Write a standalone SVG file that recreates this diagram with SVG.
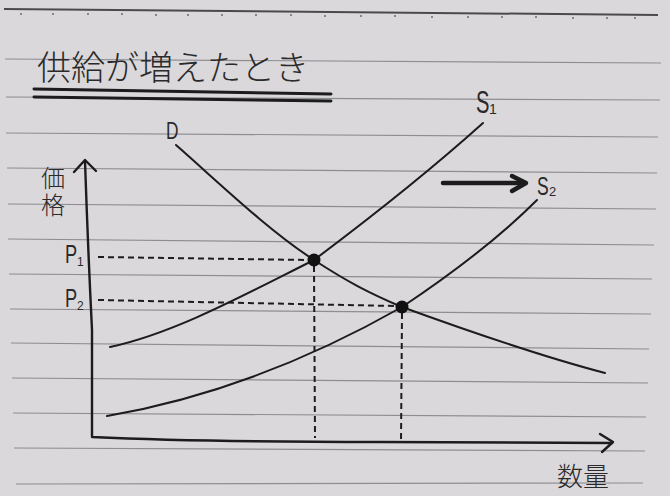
<svg xmlns="http://www.w3.org/2000/svg" width="670" height="496" viewBox="0 0 670 496">
<style>
.rule{stroke:#8e8d92;stroke-width:1.2;fill:none}
.ink{stroke:#1c1c1c;fill:none;stroke-linecap:round;stroke-linejoin:round}
.axis{stroke-width:2.4}
.curve{stroke-width:2}
.dash{stroke:#1c1c1c;stroke-width:2;stroke-dasharray:6 4;fill:none}
.jp{font-family:"Noto Sans CJK JP","Noto Sans CJK SC",sans-serif;fill:#2a2a2a;font-weight:300}
.lt{font-family:"Liberation Sans","DejaVu Sans",sans-serif;fill:#2a2a2a}
.dot{fill:#111}
</style>
<rect x="0" y="0" width="670" height="496" fill="#dad8db"/>
<g id="paper-lines">
<line x1="4" y1="9" x2="658" y2="15" stroke="#4a4a4d" stroke-width="2"/>
<g fill="#6a6a6e">
<circle cx="21" cy="14" r="1"/><circle cx="53" cy="14" r="1"/><circle cx="88" cy="14" r="1"/><circle cx="122" cy="14" r="1"/><circle cx="156" cy="15" r="1"/><circle cx="188" cy="15" r="1"/><circle cx="222" cy="15" r="1"/><circle cx="256" cy="15" r="1"/><circle cx="291" cy="15" r="1"/><circle cx="325" cy="16" r="1"/><circle cx="361" cy="16" r="1"/><circle cx="395" cy="16" r="1"/><circle cx="432" cy="17" r="1"/><circle cx="468" cy="17" r="1"/><circle cx="502" cy="17" r="1"/><circle cx="536" cy="17" r="1"/><circle cx="573" cy="18" r="1"/><circle cx="607" cy="18" r="1"/><circle cx="635" cy="18" r="1"/>
</g>
<line class="rule" x1="5" y1="59" x2="661" y2="63"/>
<line class="rule" x1="6" y1="97" x2="660" y2="100"/>
<line class="rule" x1="6" y1="133" x2="658" y2="137"/>
<line class="rule" x1="7" y1="168" x2="657" y2="173"/>
<line class="rule" x1="8" y1="204" x2="656" y2="209"/>
<line class="rule" x1="8" y1="239" x2="654" y2="245"/>
<line class="rule" x1="9" y1="274" x2="652" y2="279"/>
<line class="rule" x1="10" y1="309" x2="651" y2="314"/>
<line class="rule" x1="11" y1="343" x2="649" y2="349"/>
<line class="rule" x1="12" y1="378" x2="648" y2="383"/>
<line class="rule" x1="13" y1="413" x2="646" y2="417"/>
<line class="rule" x1="14" y1="448" x2="645" y2="451"/>
<line class="rule" x1="16" y1="484" x2="643" y2="483"/>
</g>
<g id="title">
<text class="jp" x="37" y="80" font-size="34">供給が増えたとき</text>
<line class="ink" x1="34" y1="89" x2="331" y2="94" stroke-width="3"/>
<line class="ink" x1="34" y1="97" x2="331" y2="101" stroke-width="3"/>
</g>
<g id="axes">
<path class="ink axis" d="M85,161 Q88,250 92,330 L92,437 Q200,442 380,442 L612,443"/>
<polyline class="ink axis" points="74,172 85,160 96,171"/>
<polyline class="ink axis" points="600,434 613,442 602,452"/>
<text class="jp" x="53" y="166" font-size="24" writing-mode="vertical-rl" letter-spacing="3">価格</text>
<text class="jp" x="557" y="486" font-size="26">数量</text>
</g>
<g id="connectors">
<path class="dash" d="M98,257 L308,260"/>
<path class="dash" d="M98,300 L396,306"/>
<path class="dash" d="M314,266 L315,438"/>
<path class="dash" d="M402,313 L401,443"/>
</g>
<g id="curve-D">
<path class="ink curve" d="M176,145 C222,185.5 268,230 314,260 C347,281.5 369,293 402,307 C468,331 540,356 605,373"/>
<text class="lt" transform="translate(166,139) scale(0.72,1)" font-size="24">D</text>
</g>
<g id="curve-S1">
<path class="ink curve" d="M110,347 C175,333 246,294 314,260 C364,222.5 433,168 483,123"/>
<text class="lt" transform="translate(476,113) scale(0.65,1)" font-size="31">S</text>
<text class="lt" x="489" y="114" font-size="14">1</text>
</g>
<g id="curve-S2">
<path class="ink curve" d="M107,416 C200,400 300,365 402,307 C447,277 497,240 537,200"/>
<text class="lt" transform="translate(537,195) scale(0.7,1)" font-size="25">S</text>
<text class="lt" x="549" y="196" font-size="13">2</text>
</g>
<g id="shift-arrow">
<line class="ink" x1="443" y1="183" x2="523" y2="183" stroke-width="4.5"/>
<polyline class="ink" points="512,176 526,183 512,191" stroke-width="4.5"/>
</g>
<g id="equilibria">
<circle class="dot" cx="314" cy="260" r="6.5"/>
<circle class="dot" cx="402" cy="307" r="6.5"/>
</g>
<g id="price-labels">
<text class="lt" transform="translate(65,263) scale(0.7,1)" font-size="26">P</text>
<text class="lt" x="77" y="266" font-size="12">1</text>
<text class="lt" transform="translate(65,307) scale(0.7,1)" font-size="26">P</text>
<text class="lt" x="77" y="310" font-size="12">2</text>
</g>
</svg>
